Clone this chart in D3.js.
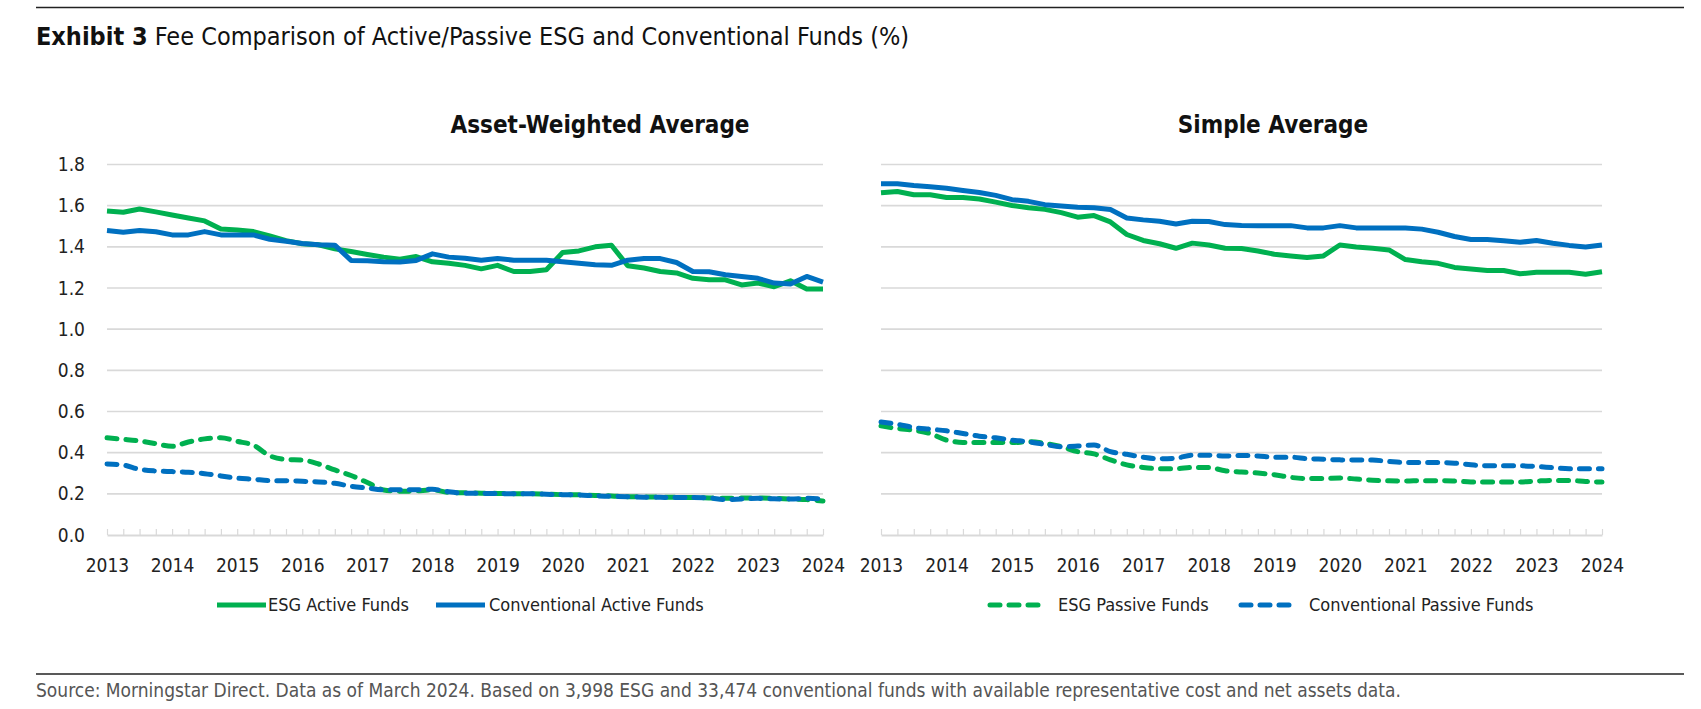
<!DOCTYPE html>
<html>
<head>
<meta charset="utf-8">
<script src="https://cdn.jsdelivr.net/npm/d3@7"></script>
<style>
    body { margin: 0; background: #fff; }
    svg { display: block; font-family: "DejaVu Sans Condensed", "Liberation Sans Narrow", sans-serif; }
</style>
</head>
<body>
<svg id="chart"></svg>
<script>
// quarterly observations, 2013 Q1 .. 2024 Q1
const years = [2013, 2014, 2015, 2016, 2017, 2018, 2019, 2020, 2021, 2022, 2023, 2024];
const yTicks = [0, 0.2, 0.4, 0.6, 0.8, 1.0, 1.2, 1.4, 1.6, 1.8];

const awEsgActive = [1.574, 1.568, 1.584, 1.57, 1.555, 1.54, 1.526, 1.487, 1.482, 1.474,
    1.453, 1.43, 1.415, 1.41, 1.39, 1.377, 1.363, 1.35, 1.34, 1.353,
    1.327, 1.32, 1.31, 1.293, 1.31, 1.28, 1.28, 1.289, 1.372, 1.38,
    1.40, 1.408, 1.308, 1.297, 1.28, 1.273, 1.247, 1.24, 1.24, 1.215,
    1.224, 1.206, 1.235, 1.195, 1.195];
const awConvActive = [1.479, 1.471, 1.479, 1.473, 1.458, 1.458, 1.474, 1.458, 1.458, 1.458,
    1.437, 1.427, 1.416, 1.41, 1.408, 1.334, 1.332, 1.327, 1.326, 1.334,
    1.366, 1.35, 1.345, 1.335, 1.343, 1.335, 1.335, 1.335, 1.327, 1.32,
    1.313, 1.31, 1.335, 1.343, 1.343, 1.324, 1.28, 1.279, 1.264, 1.256,
    1.247, 1.224, 1.219, 1.256, 1.229];
const awEsgPassive = [0.472, 0.465, 0.457, 0.444, 0.431, 0.452, 0.467, 0.473, 0.455, 0.436,
    0.385, 0.367, 0.364, 0.345, 0.316, 0.289, 0.255, 0.219, 0.212, 0.214,
    0.219, 0.207, 0.205, 0.203, 0.202, 0.200, 0.200, 0.198, 0.196, 0.195,
    0.192, 0.190, 0.186, 0.185, 0.184, 0.183, 0.182, 0.180, 0.178, 0.180,
    0.180, 0.178, 0.175, 0.172, 0.165];
const awConvPassive = [0.345, 0.340, 0.319, 0.311, 0.308, 0.305, 0.298, 0.287, 0.276, 0.271,
    0.264, 0.264, 0.261, 0.258, 0.251, 0.237, 0.228, 0.219, 0.220, 0.220,
    0.222, 0.210, 0.203, 0.202, 0.201, 0.200, 0.200, 0.198, 0.196, 0.195,
    0.190, 0.188, 0.186, 0.184, 0.183, 0.182, 0.182, 0.180, 0.172, 0.175,
    0.178, 0.176, 0.175, 0.178, 0.175];

const saEsgActive = [1.663, 1.669, 1.653, 1.653, 1.64, 1.64, 1.632, 1.617, 1.601, 1.59,
    1.582, 1.566, 1.544, 1.552, 1.521, 1.46, 1.431, 1.415, 1.393, 1.418,
    1.409, 1.393, 1.392, 1.38, 1.364, 1.356, 1.348, 1.356, 1.409, 1.399,
    1.393, 1.385, 1.338, 1.328, 1.32, 1.30, 1.292, 1.285, 1.285, 1.269,
    1.277, 1.277, 1.277, 1.267, 1.279];
const saConvActive = [1.706, 1.706, 1.698, 1.692, 1.685, 1.674, 1.664, 1.65, 1.629, 1.621,
    1.605, 1.598, 1.592, 1.59, 1.581, 1.54, 1.531, 1.524, 1.511, 1.524,
    1.523, 1.508, 1.504, 1.503, 1.503, 1.503, 1.492, 1.492, 1.503, 1.492,
    1.492, 1.492, 1.492, 1.486, 1.471, 1.45, 1.436, 1.436, 1.43, 1.422,
    1.431, 1.417, 1.407, 1.399, 1.409];
const saEsgPassive = [0.530, 0.517, 0.509, 0.493, 0.461, 0.450, 0.450, 0.450, 0.449, 0.453,
    0.445, 0.429, 0.405, 0.394, 0.365, 0.341, 0.328, 0.322, 0.322, 0.328,
    0.328, 0.312, 0.306, 0.301, 0.293, 0.280, 0.274, 0.274, 0.277, 0.272,
    0.266, 0.263, 0.262, 0.264, 0.264, 0.262, 0.258, 0.258, 0.258, 0.258,
    0.262, 0.265, 0.265, 0.260, 0.257];
const saConvPassive = [0.549, 0.538, 0.522, 0.514, 0.506, 0.493, 0.480, 0.472, 0.461, 0.453,
    0.440, 0.429, 0.432, 0.437, 0.405, 0.392, 0.378, 0.370, 0.373, 0.388,
    0.388, 0.384, 0.386, 0.384, 0.378, 0.378, 0.371, 0.368, 0.365, 0.364,
    0.364, 0.357, 0.352, 0.352, 0.352, 0.349, 0.341, 0.336, 0.336, 0.336,
    0.333, 0.327, 0.322, 0.322, 0.322];

const GREEN = "#00b050";
const BLUE = "#0070c0";
const GRID = "#d9d9d9";

const width = 1701, height = 709;
const svg = d3.select("#chart").attr("width", width).attr("height", height);
svg.append("rect").attr("width", width).attr("height", height).attr("fill", "#fff");

// top and bottom rules
svg.append("line").attr("x1", 36).attr("x2", 1684).attr("y1", 7.5).attr("y2", 7.5)
    .attr("stroke", "#222").attr("stroke-width", 1.5);
svg.append("line").attr("x1", 36).attr("x2", 1684).attr("y1", 674).attr("y2", 674)
    .attr("stroke", "#222").attr("stroke-width", 1.5);

const title = svg.append("text").attr("x", 36).attr("y", 45)
    .attr("font-size", "25px").attr("fill", "#111");
title.append("tspan").attr("font-weight", "bold").text("Exhibit 3");
title.append("tspan").text(" Fee Comparison of Active/Passive ESG and Conventional Funds (%)");

svg.append("text").attr("x", 36).attr("y", 697)
    .attr("font-size", "19px").attr("fill", "#555")
    .text("Source: Morningstar Direct. Data as of March 2024. Based on 3,998 ESG and 33,474 conventional funds with available representative cost and net assets data.");

const yScale = d3.scaleLinear().domain([0, 1.8]).range([535, 164.5]);

function drawPanel(opts) {
    const x = d3.scaleLinear().domain([2013, 2024]).range(opts.range);
    const g = svg.append("g");
    const quarterX = i => x(years[0] + i / 4);

    g.selectAll(".grid")
        .data(yTicks.filter(d => d > 0))
        .join("line")
        .attr("class", "grid")
        .attr("x1", opts.range[0]).attr("x2", opts.range[1])
        .attr("y1", d => yScale(d)).attr("y2", d => yScale(d))
        .attr("stroke", GRID).attr("stroke-width", 1.6);

    // minor quarter ticks pointing up from the base line
    const quarters = d3.range(awEsgActive.length).map(i => years[0] + i / 4);
    const minor = g.append("g")
        .attr("transform", `translate(0, ${yScale(0)})`)
        .call(d3.axisBottom(x).tickValues(quarters).tickSize(-6).tickSizeOuter(0).tickFormat(""));
    minor.select(".domain").attr("stroke", GRID).attr("stroke-width", 2);
    minor.selectAll(".tick line").attr("stroke", GRID).attr("stroke-width", 1.2);

    const labels = g.append("g")
        .attr("transform", `translate(0, ${yScale(0)})`)
        .call(d3.axisBottom(x).tickValues(years).tickSize(0).tickPadding(24).tickFormat(d3.format("d")));
    labels.select(".domain").remove();
    labels.selectAll("text").attr("font-size", "19px").attr("fill", "#222")
        .attr("font-family", "DejaVu Sans Condensed, Liberation Sans Narrow, sans-serif");

    if (opts.yLabels) {
        const yAxis = g.append("g")
            .attr("transform", `translate(${opts.range[0] - 10}, 0)`)
            .call(d3.axisLeft(yScale).tickValues(yTicks).tickSize(0).tickPadding(12).tickFormat(d3.format(".1f")));
        yAxis.select(".domain").remove();
        yAxis.selectAll("text").attr("font-size", "19px").attr("fill", "#222")
            .attr("font-family", "DejaVu Sans Condensed, Liberation Sans Narrow, sans-serif");
    }

    g.append("text")
        .attr("x", opts.titleX).attr("y", 133)
        .attr("text-anchor", "middle")
        .attr("font-size", "24px").attr("font-weight", "bold").attr("fill", "#111")
        .text(opts.title);

    opts.series.forEach(s => {
        const line = d3.line()
            .x((d, i) => quarterX(i))
            .y(d => yScale(d))
            .curve(s.dashed ? d3.curveMonotoneX : d3.curveLinear);
        g.append("path")
            .datum(s.values)
            .attr("fill", "none")
            .attr("stroke", s.color)
            .attr("stroke-width", 5)
            .attr("stroke-linejoin", "round")
            .attr("stroke-linecap", s.dashed ? "round" : "butt")
            .attr("stroke-dasharray", s.dashed ? "10,9" : null)
            .attr("d", line);
    });
}

drawPanel({
    range: [107, 823], yLabels: true, title: "Asset-Weighted Average", titleX: 600,
    series: [
        { values: awEsgActive, color: GREEN },
        { values: awConvActive, color: BLUE },
        { values: awEsgPassive, color: GREEN, dashed: true },
        { values: awConvPassive, color: BLUE, dashed: true }
    ]
});

drawPanel({
    range: [881, 1602], yLabels: false, title: "Simple Average", titleX: 1273,
    series: [
        { values: saEsgActive, color: GREEN },
        { values: saConvActive, color: BLUE },
        { values: saEsgPassive, color: GREEN, dashed: true },
        { values: saConvPassive, color: BLUE, dashed: true }
    ]
});

// legends
const legendItems = [
    { label: "ESG Active Funds", color: GREEN, x1: 217, x2: 266, tx: 268 },
    { label: "Conventional Active Funds", color: BLUE, x1: 436, x2: 485, tx: 489 },
    { label: "ESG Passive Funds", color: GREEN, dashed: true, x1: 990, x2: 1045, tx: 1058 },
    { label: "Conventional Passive Funds", color: BLUE, dashed: true, x1: 1241, x2: 1297, tx: 1309 }
];
const legend = svg.append("g");
legendItems.forEach(d => {
    legend.append("line")
        .attr("x1", d.x1).attr("x2", d.x2).attr("y1", 605).attr("y2", 605)
        .attr("stroke", d.color).attr("stroke-width", 5)
        .attr("stroke-linecap", d.dashed ? "round" : "butt")
        .attr("stroke-dasharray", d.dashed ? "10,9" : null);
    legend.append("text")
        .attr("x", d.tx).attr("y", 605).attr("dy", "0.35em")
        .attr("font-size", "18px").attr("fill", "#222")
        .text(d.label);
});
</script>
</body>
</html>
